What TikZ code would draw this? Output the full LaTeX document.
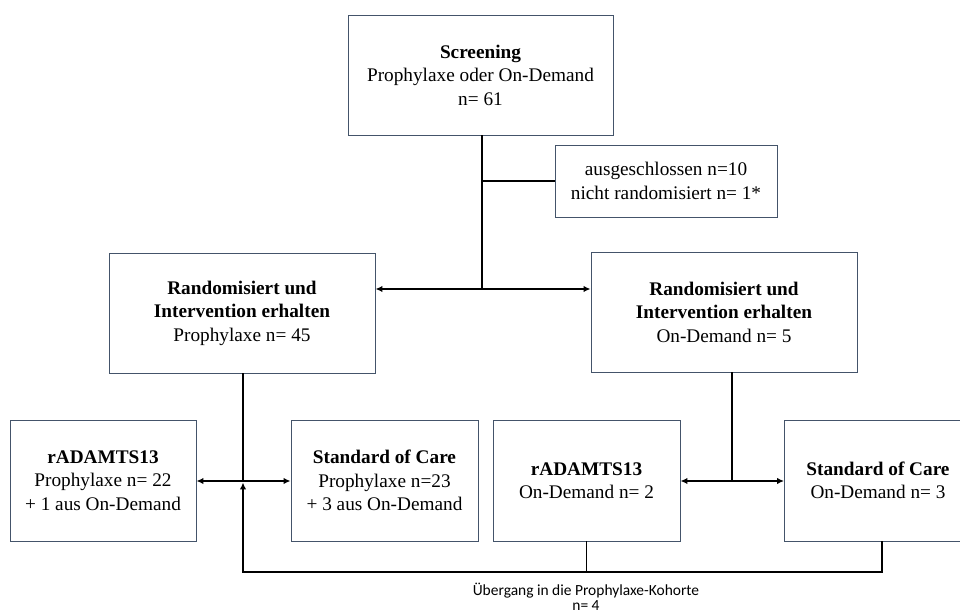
\documentclass[tikz,border=0pt]{standalone}
\usepackage{fontspec}
\setmainfont{Liberation Serif}
\newfontfamily\calibfont{Carlito}
\usepackage{xcolor}
\usepackage{tikz}
\usetikzlibrary{positioning, arrows.meta}

\definecolor{boxcol}{RGB}{68,84,106}

\begin{document}
\begin{tikzpicture}[x=0.025cm, y=-0.025cm, >={Latex[length=5pt,width=4.6pt]},
    box/.style={draw=boxcol, line width=0.6pt, align=center, inner sep=0pt,
        font=\fontsize{13.7}{16.7}\selectfont},
    conn/.style={line width=1.1pt, black},
    trans/.style={align=center, font=\calibfont\fontsize{11}{11}\selectfont}]
    \useasboundingbox (0,0) rectangle (960,616);
    \node[box, minimum width=6.625cm, minimum height=3cm] (screen) at (480.5,75)
        {\textbf{Screening}\\Prophylaxe oder On-Demand\\n= 61};
    \node[box, minimum width=5.55cm, minimum height=1.8cm] (excl) at (666,181)
        {ausgeschlossen n=10\\nicht randomisiert n= 1*};
    \node[box, minimum width=6.65cm, minimum height=3cm] (randP) at (242,313)
        {\textbf{Randomisiert und}\\\textbf{Intervention erhalten}\\Prophylaxe n= 45};
    \node[box, minimum width=6.65cm, minimum height=3cm] (randD) at (724,312)
        {\textbf{Randomisiert und}\\\textbf{Intervention erhalten}\\On-Demand n= 5};
    \node[box, minimum width=4.65cm, minimum height=3.025cm] (adamP) at (103,480.5)
        {\textbf{rADAMTS13}\\Prophylaxe n= 22\\+ 1 aus On-Demand};
    \node[box, minimum width=4.675cm, minimum height=3.025cm] (socP) at (384.5,480.5)
        {\textbf{Standard of Care}\\Prophylaxe n=23\\+ 3 aus On-Demand};
    \node[box, minimum width=4.675cm, minimum height=3.025cm] (adamD) at (586.5,480.5)
        {\textbf{rADAMTS13}\\On-Demand n= 2};
    \node[box, minimum width=4.675cm, minimum height=3.025cm] (socD) at (878,480.5)
        {\textbf{Standard of Care}\\On-Demand n= 3};
    \coordinate (j1) at (482,289);
    \coordinate (j2) at (243,481);
    \coordinate (j3) at (732,481);
    \coordinate (b1) at (243,572);
    \coordinate (b3) at (882,572);
    \draw[conn] (screen.south -| j1) -- (j1);
    \draw[conn] (excl.west) -- (excl.west -| j1);
    \draw[conn, <->] (randP.east |- j1) -- (randD.west |- j1);
    \draw[conn] (randP.south -| j2) -- (j2);
    \draw[conn, <->] (adamP.east |- j2) -- (socP.west |- j2);
    \draw[conn] (randD.south -| j3) -- (j3);
    \draw[conn, <->] (adamD.east |- j3) -- (socD.west |- j3);
    \draw[conn] (adamD.south) -- (adamD.south |- b1);
    \draw[conn, ->] (socD.south -| b3) -- (b3) -- (b1) -- ([yshift=-1pt]j2);
    \node[trans] (uebergang) at (586,597) {Übergang in die Prophylaxe-Kohorte\\n= 4};
\end{tikzpicture}
\end{document}
